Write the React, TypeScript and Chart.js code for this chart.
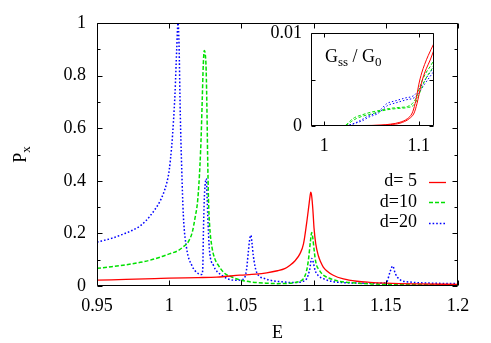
import React, { useEffect, useRef } from 'react';
import { Chart, registerables } from 'chart.js';

Chart.register(...registerables);

const FONT = "'Liberation Serif', 'DejaVu Serif', serif";

// ---------- main chart data: [E, Px] ----------
const d5: [number, number][] = [
  [0.95, 0.022], [0.97, 0.025], [0.99, 0.028], [1.0, 0.030], [1.02, 0.032], [1.033, 0.034],
  [1.049, 0.041], [1.06, 0.045], [1.0675, 0.050], [1.075, 0.058], [1.08, 0.066], [1.0837, 0.079],
  [1.087, 0.095], [1.0906, 0.123], [1.093, 0.16], [1.0952, 0.24], [1.0966, 0.30], [1.0975, 0.34],
  [1.098, 0.357], [1.0986, 0.345], [1.0995, 0.29], [1.1003, 0.22], [1.1015, 0.16], [1.1033, 0.115],
  [1.105, 0.09], [1.1067, 0.072], [1.109, 0.058], [1.1136, 0.041], [1.1206, 0.027], [1.13, 0.018],
  [1.139, 0.014], [1.15, 0.011], [1.17, 0.008], [1.2, 0.006],
];

const d10: [number, number][] = [
  [0.95, 0.067], [0.96, 0.073], [0.968, 0.079], [0.98, 0.09], [0.9867, 0.098], [0.995, 0.112],
  [1.0005, 0.123], [1.0063, 0.135], [1.0095, 0.148], [1.0132, 0.168], [1.016, 0.205], [1.0178, 0.256],
  [1.0198, 0.33], [1.0213, 0.459], [1.0222, 0.58], [1.0229, 0.712], [1.0236, 0.84], [1.0243, 0.895],
  [1.025, 0.88], [1.0256, 0.82], [1.0262, 0.65], [1.0266, 0.5], [1.0272, 0.33], [1.028, 0.23],
  [1.0294, 0.155], [1.0315, 0.105], [1.034, 0.079], [1.038, 0.05], [1.0433, 0.034], [1.05, 0.022],
  [1.0571, 0.015], [1.0663, 0.011], [1.075, 0.009], [1.082, 0.01], [1.087, 0.013], [1.09, 0.017],
  [1.093, 0.028], [1.095, 0.055], [1.0964, 0.098], [1.0978, 0.17], [1.0987, 0.203], [1.0995, 0.18],
  [1.1003, 0.14], [1.101, 0.108], [1.102, 0.08], [1.1035, 0.064], [1.106, 0.045], [1.109, 0.034],
  [1.113, 0.025], [1.1183, 0.017], [1.125, 0.013], [1.14, 0.008], [1.16, 0.006], [1.18, 0.005],
  [1.2, 0.004],
];

const d20: [number, number][] = [
  [0.95, 0.167], [0.96, 0.181], [0.968, 0.197], [0.975, 0.213], [0.98, 0.229], [0.9835, 0.246],
  [0.9867, 0.266], [0.99, 0.29], [0.9936, 0.322], [0.996, 0.352], [0.9983, 0.392], [1.0, 0.44],
  [1.0017, 0.53], [1.003, 0.63], [1.004, 0.73], [1.0052, 0.9],
  [1.0061, 1.0], [1.0068, 0.92], [1.0077, 0.649], [1.0086, 0.459], [1.0098, 0.269], [1.0121, 0.142],
  [1.0156, 0.079], [1.0202, 0.047], [1.0225, 0.044], [1.0232, 0.06], [1.0237, 0.205], [1.0243, 0.33],
  [1.0248, 0.38], [1.0257, 0.408], [1.0263, 0.33], [1.0267, 0.269], [1.0278, 0.142], [1.0306, 0.079],
  [1.0363, 0.041], [1.0456, 0.022], [1.0515, 0.026], [1.0535, 0.06], [1.0548, 0.13], [1.0558, 0.18],
  [1.0566, 0.193], [1.0574, 0.16], [1.0582, 0.117], [1.0605, 0.053], [1.0663, 0.028], [1.0698, 0.022],
  [1.078, 0.016], [1.086, 0.013], [1.092, 0.017], [1.0952, 0.028], [1.0972, 0.06], [1.0987, 0.105],
  [1.0998, 0.09], [1.101, 0.06], [1.1035, 0.038], [1.1067, 0.028], [1.113, 0.017], [1.1206, 0.013],
  [1.13, 0.011], [1.14, 0.01], [1.147, 0.011], [1.1506, 0.015], [1.1529, 0.053], [1.1548, 0.076],
  [1.1566, 0.047], [1.1598, 0.024], [1.1668, 0.015], [1.18, 0.011], [1.2, 0.009],
];

const seriesLabels = ['d= 5', 'd=10', 'd=20'];
const seriesColors = ['#ff0000', '#00e000', '#0000ff'];

const xTickValues = [0.95, 1, 1.05, 1.1, 1.15, 1.2];
const xTickLabels = ['0.95', '1', '1.05', '1.1', '1.15', '1.2'];
const yTickValues = [0, 0.2, 0.4, 0.6, 0.8, 1];
const yTickLabels = ['0', '0.2', '0.4', '0.6', '0.8', '1'];
const yMinorTicks = [0.1, 0.3, 0.5, 0.7, 0.9];

// ---------- inset data: [E, Gss/G0] ----------
const g5a: [number, number][] = [
  [0.986, 0], [1.0, 0], [1.02, 0.00002], [1.04, 0.00005], [1.06, 0.0001], [1.07, 0.0002],
  [1.08, 0.0004], [1.088, 0.0008], [1.093, 0.0014], [1.096, 0.0024], [1.098, 0.0034], [1.1, 0.0045],
  [1.103, 0.0057], [1.106, 0.0066], [1.11, 0.0076], [1.116, 0.0089],
];
const g5b: [number, number][] = [
  [0.986, 0], [1.0, 0], [1.02, 0.00001], [1.04, 0.00003], [1.06, 0.00008], [1.07, 0.00015],
  [1.08, 0.0003], [1.09, 0.0008], [1.095, 0.0014], [1.098, 0.0024], [1.1, 0.0033], [1.102, 0.0043],
  [1.105, 0.0054], [1.108, 0.0062], [1.112, 0.0071], [1.116, 0.0082],
];
const g10a: [number, number][] = [
  [0.986, 0], [1.02, 0], [1.024, 0.0002], [1.028, 0.0006], [1.032, 0.0009], [1.04, 0.0012],
  [1.05, 0.0015], [1.06, 0.0017], [1.07, 0.0019], [1.08, 0.002], [1.088, 0.0021], [1.093, 0.0024],
  [1.097, 0.003], [1.1, 0.0039], [1.104, 0.005], [1.108, 0.0058], [1.112, 0.0064], [1.116, 0.0071],
];
const g10b: [number, number][] = [
  [0.986, 0], [1.021, 0], [1.025, 0.0002], [1.029, 0.0005], [1.034, 0.0008], [1.042, 0.0011],
  [1.05, 0.0013], [1.06, 0.0016], [1.07, 0.0018], [1.08, 0.0019], [1.089, 0.002], [1.094, 0.0022],
  [1.098, 0.0028], [1.101, 0.0036], [1.105, 0.0046], [1.109, 0.0054], [1.113, 0.006], [1.116, 0.0066],
];
const g20a: [number, number][] = [
  [0.986, 0], [1.02, 0], [1.026, 0.0001], [1.032, 0.0003], [1.04, 0.0007], [1.045, 0.001],
  [1.05, 0.0012], [1.055, 0.0014], [1.06, 0.0018], [1.066, 0.0024], [1.075, 0.0027], [1.085, 0.003],
  [1.095, 0.0033], [1.1, 0.0039], [1.105, 0.0047], [1.11, 0.0055], [1.116, 0.0063],
];
const g20b: [number, number][] = [
  [0.986, 0], [1.021, 0], [1.027, 0.0001], [1.033, 0.0003], [1.041, 0.0006], [1.046, 0.0009],
  [1.051, 0.0011], [1.056, 0.0013], [1.061, 0.0017], [1.067, 0.0022], [1.076, 0.0025], [1.086, 0.0028],
  [1.096, 0.0031], [1.101, 0.0037], [1.106, 0.0045], [1.111, 0.0052], [1.116, 0.0059],
];

const insetXTickValues = [1, 1.1];
const insetXTickLabels = ['1', '1.1'];
const insetYTickValues = [0, 0.005, 0.01];
const insetYTickLabels = ['0', '', '0.01'];

const toPts = (arr: [number, number][]) => arr.map(([x, y]) => ({ x, y }));

const dashes = [[], [4, 2], [1.6, 2]];

function frameTicks(ctx: CanvasRenderingContext2D, chart: any, xt: number[], yt: number[], ym: number[], major: number, minor: number) {
  const a = chart.chartArea;
  const xs = chart.scales.x;
  const ys = chart.scales.y;
  const L = Math.round(a.left) + 0.5;
  const R = Math.round(a.right) - 0.5;
  const T = Math.round(a.top) + 0.5;
  const B = Math.round(a.bottom) - 0.5;
  ctx.save();
  ctx.strokeStyle = '#000';
  ctx.lineWidth = 1;
  ctx.setLineDash([]);
  ctx.beginPath();
  ctx.rect(L, T, R - L, B - T);
  for (const v of xt) {
    const px = Math.round(xs.getPixelForValue(v)) + 0.5;
    ctx.moveTo(px, B); ctx.lineTo(px, B - major);
    ctx.moveTo(px, T); ctx.lineTo(px, T + major);
  }
  for (const v of yt) {
    const py = Math.round(ys.getPixelForValue(v)) + 0.5;
    ctx.moveTo(L, py); ctx.lineTo(L + major, py);
    ctx.moveTo(R, py); ctx.lineTo(R - major, py);
  }
  for (const v of ym) {
    const py = Math.round(ys.getPixelForValue(v)) + 0.5;
    ctx.moveTo(L, py); ctx.lineTo(L + minor, py);
    ctx.moveTo(R, py); ctx.lineTo(R - minor, py);
  }
  ctx.stroke();
  ctx.restore();
}

function tickLabels(
  ctx: CanvasRenderingContext2D, chart: any,
  xv: number[], xl: string[], xLabelY: number,
  yv: number[], yl: string[], yLabelX: number,
) {
  const xs = chart.scales.x;
  const ys = chart.scales.y;
  ctx.save();
  ctx.fillStyle = '#000';
  ctx.font = `18px ${FONT}`;
  ctx.textBaseline = 'middle';
  ctx.textAlign = 'center';
  xv.forEach((v, i) => ctx.fillText(xl[i], xs.getPixelForValue(v), xLabelY));
  ctx.textAlign = 'right';
  yv.forEach((v, i) => { if (yl[i]) ctx.fillText(yl[i], yLabelX, ys.getPixelForValue(v)); });
  ctx.restore();
}

const mainDecor = {
  id: 'mainDecor',
  afterDraw(chart: any) {
    const ctx = chart.ctx as CanvasRenderingContext2D;
    frameTicks(ctx, chart, xTickValues, yTickValues, yMinorTicks, 5, 3);
    tickLabels(ctx, chart, xTickValues, xTickLabels, 306, yTickValues, yTickLabels, 86);
    const a = chart.chartArea;
    ctx.save();
    ctx.fillStyle = '#000';
    // x title
    ctx.font = `18px ${FONT}`;
    ctx.textAlign = 'center';
    ctx.textBaseline = 'middle';
    ctx.fillText('E', (a.left + a.right) / 2, 333);
    // y title P_x
    ctx.translate(22, (a.top + a.bottom) / 2);
    ctx.rotate(-Math.PI / 2);
    ctx.textAlign = 'left';
    ctx.textBaseline = 'alphabetic';
    ctx.font = `18px ${FONT}`;
    const wP = ctx.measureText('P').width;
    ctx.font = `13px ${FONT}`;
    const wx = ctx.measureText('x').width;
    const start = -(wP + wx) / 2;
    ctx.font = `18px ${FONT}`;
    ctx.fillText('P', start, 4);
    ctx.font = `13px ${FONT}`;
    ctx.fillText('x', start + wP, 8);
    ctx.restore();

    // legend
    ctx.save();
    const rows = [181.5, 202, 222.5];
    ctx.font = `18px ${FONT}`;
    ctx.textAlign = 'right';
    ctx.textBaseline = 'middle';
    ctx.fillStyle = '#000';
    seriesLabels.forEach((lab, i) => {
      ctx.fillText(lab, 417, rows[i]);
      ctx.beginPath();
      ctx.strokeStyle = seriesColors[i];
      ctx.lineWidth = i === 0 ? 1.3 : 1.5;
      ctx.setLineDash(dashes[i]);
      ctx.moveTo(429, Math.round(rows[i]) + 0.5);
      ctx.lineTo(446, Math.round(rows[i]) + 0.5);
      ctx.stroke();
    });
    ctx.restore();
  },
};

const insetDecor = {
  id: 'insetDecor',
  afterDraw(chart: any) {
    const ctx = chart.ctx as CanvasRenderingContext2D;
    frameTicks(ctx, chart, insetXTickValues, insetYTickValues, [], 4, 3);
    tickLabels(ctx, chart, insetXTickValues, insetXTickLabels, 136, insetYTickValues, insetYTickLabels, 42);
    ctx.save();
    ctx.fillStyle = '#000';
    ctx.textBaseline = 'alphabetic';
    ctx.textAlign = 'left';
    let x = 65;
    const base = 52;
    ctx.font = `18px ${FONT}`;
    ctx.fillText('G', x, base); x += ctx.measureText('G').width;
    ctx.font = `13px ${FONT}`;
    ctx.fillText('ss', x, base + 4); x += ctx.measureText('ss').width;
    ctx.font = `18px ${FONT}`;
    ctx.fillText(' / G', x, base); x += ctx.measureText(' / G').width;
    ctx.font = `13px ${FONT}`;
    ctx.fillText('0', x, base + 4);
    ctx.restore();
  },
};

export default function App() {
  const mainRef = useRef<HTMLCanvasElement>(null);
  const insetRef = useRef<HTMLCanvasElement>(null);

  useEffect(() => {
    const mk = (data: [number, number][], i: number, w: number) => ({
      label: seriesLabels[i],
      data: toPts(data),
      borderColor: seriesColors[i],
      backgroundColor: seriesColors[i],
      borderWidth: w,
      borderDash: dashes[i],
      pointRadius: 0,
      fill: false,
      cubicInterpolationMode: 'monotone' as const,
    });

    const main = new Chart(mainRef.current!, {
      type: 'line',
      data: {
        datasets: [mk(d5, 0, 1.3), mk(d10, 1, 1.5), mk(d20, 2, 1.5)],
      },
      options: {
        animation: false,
        responsive: false,
        maintainAspectRatio: false,
        layout: { padding: { left: 0, top: 23, right: 33, bottom: 0 } },
        plugins: { legend: { display: false }, tooltip: { enabled: false } },
        scales: {
          x: {
            type: 'linear',
            min: 0.95,
            max: 1.2,
            grid: { display: false },
            border: { display: false },
            afterBuildTicks: (s: any) => { s.ticks = xTickValues.map((v) => ({ value: v })); },
            afterFit: (s: any) => { s.height = 57; },
            ticks: { display: false, autoSkip: false, maxRotation: 0 },
          },
          y: {
            type: 'linear',
            min: 0,
            max: 1,
            grid: { display: false },
            border: { display: false },
            afterBuildTicks: (s: any) => { s.ticks = yTickValues.map((v) => ({ value: v })); },
            afterFit: (s: any) => { s.width = 97; },
            ticks: { display: false, autoSkip: false },
          },
        },
      },
      plugins: [mainDecor],
    });

    const mi = (data: [number, number][], i: number) => ({
      label: seriesLabels[i],
      data: toPts(data),
      borderColor: seriesColors[i],
      borderWidth: 1,
      borderDash: i === 0 ? [] : i === 1 ? [3, 2] : [1.5, 2],
      pointRadius: 0,
      fill: false,
      cubicInterpolationMode: 'monotone' as const,
    });

    const inset = new Chart(insetRef.current!, {
      type: 'line',
      data: {
        datasets: [mi(g5a, 0), mi(g5b, 0), mi(g10a, 1), mi(g10b, 1), mi(g20a, 2), mi(g20b, 2)],
      },
      options: {
        animation: false,
        responsive: false,
        maintainAspectRatio: false,
        layout: { padding: { left: 0, top: 23, right: 26, bottom: 0 } },
        plugins: { legend: { display: false }, tooltip: { enabled: false } },
        scales: {
          x: {
            type: 'linear',
            min: 0.986,
            max: 1.116,
            grid: { display: false },
            border: { display: false },
            afterBuildTicks: (s: any) => { s.ticks = insetXTickValues.map((v) => ({ value: v })); },
            afterFit: (s: any) => { s.height = 34; },
            ticks: { display: false, autoSkip: false, maxRotation: 0 },
          },
          y: {
            type: 'linear',
            min: 0,
            max: 0.01,
            grid: { display: false },
            border: { display: false },
            afterBuildTicks: (s: any) => { s.ticks = insetYTickValues.map((v) => ({ value: v })); },
            afterFit: (s: any) => { s.width = 51; },
            ticks: { display: false, autoSkip: false },
          },
        },
      },
      plugins: [insetDecor],
    });

    return () => {
      main.destroy();
      inset.destroy();
    };
  }, []);

  return (
    <div style={{ position: 'fixed', left: 0, top: 0, width: 491, height: 343, background: '#fff' }}>
      <canvas ref={mainRef} width={491} height={343} style={{ position: 'absolute', left: 0, top: 0, width: 491, height: 343 }} />
      <canvas ref={insetRef} width={200} height={150} style={{ position: 'absolute', left: 260, top: 10, width: 200, height: 150 }} />
    </div>
  );
}
